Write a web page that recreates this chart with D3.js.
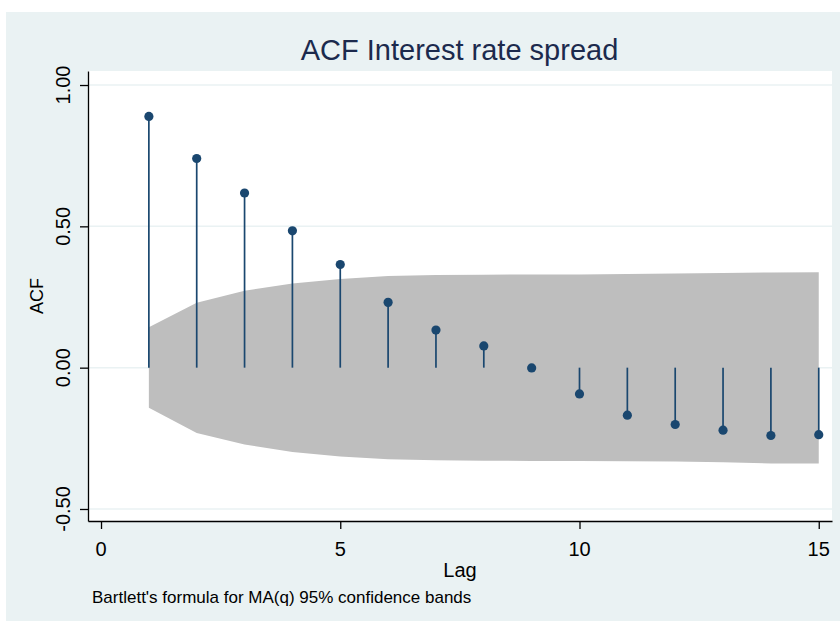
<!DOCTYPE html>
<html>
<head>
<meta charset="utf-8">
<script src="https://cdn.jsdelivr.net/npm/d3@7"></script>
<style>
  html, body { margin: 0; padding: 0; background: #ffffff; }
  svg { display: block; font-family: Arial, "Liberation Sans", sans-serif; }
</style>
</head>
<body>
<svg id="chart" width="840" height="622"></svg>
<script>
// ---- data ----
const lags = [1, 2, 3, 4, 5, 6, 7, 8, 9, 10, 11, 12, 13, 14, 15];
const acf = [0.889, 0.740, 0.618, 0.484, 0.365, 0.231, 0.133, 0.077, -0.001, -0.093, -0.168, -0.201, -0.221, -0.240, -0.237];
const bandUpper = [0.143, 0.230, 0.272, 0.298, 0.314, 0.324, 0.328, 0.329, 0.330, 0.330, 0.331, 0.333, 0.335, 0.337, 0.338];
const bandLower = [-0.142, -0.231, -0.272, -0.298, -0.314, -0.324, -0.328, -0.329, -0.330, -0.330, -0.331, -0.332, -0.335, -0.339, -0.339];
const yTicks = [-0.5, 0, 0.5, 1];
const yTickLabels = ["-0.50", "0.00", "0.50", "1.00"];
const xTicks = [0, 5, 10, 15];
const titleText = "ACF Interest rate spread";
const yTitle = "ACF";
const xTitle = "Lag";
const noteText = "Bartlett's formula for MA(q) 95% confidence bands";

// ---- layout ----
const svg = d3.select("#chart");
const plot = { left: 88, right: 832, top: 71, bottom: 521 };

svg.append("rect").attr("x", 6).attr("y", 12).attr("width", 834).attr("height", 609)
  .attr("fill", "#EAF2F3");
svg.append("rect").attr("x", plot.left).attr("y", plot.top)
  .attr("width", plot.right - plot.left).attr("height", plot.bottom - plot.top)
  .attr("fill", "#ffffff");

const x = d3.scaleLinear().domain([-0.272, 15.277]).range([plot.left, plot.right]);
const y = d3.scaleLinear().domain([-0.5425, 1.0496]).range([plot.bottom, plot.top]);

// grid
svg.append("g").selectAll("line").data(yTicks).join("line")
  .attr("x1", plot.left).attr("x2", plot.right)
  .attr("y1", d => y(d)).attr("y2", d => y(d))
  .attr("stroke", "#EAF2F3").attr("stroke-width", 1.5);

// confidence band
const bandData = lags.map((l, i) => ({ lag: l, lo: bandLower[i], hi: bandUpper[i] }));
svg.append("path").datum(bandData)
  .attr("d", d3.area().x(d => x(d.lag)).y0(d => y(d.lo)).y1(d => y(d.hi)))
  .attr("fill", "#BEBEBE");

// stems
const pts = lags.map((l, i) => ({ lag: l, v: acf[i] }));
svg.append("g").selectAll("line").data(pts).join("line")
  .attr("x1", d => x(d.lag)).attr("x2", d => x(d.lag))
  .attr("y1", y(0)).attr("y2", d => y(d.v))
  .attr("stroke", "#1A476F").attr("stroke-width", 1.7);
svg.append("g").selectAll("circle").data(pts).join("circle")
  .attr("cx", d => x(d.lag)).attr("cy", d => y(d.v)).attr("r", 4.6)
  .attr("fill", "#1A476F");

// y axis
const yAxis = svg.append("g").attr("transform", `translate(${plot.left},0)`)
  .call(d3.axisLeft(y).tickValues(yTicks).tickSize(8).tickSizeOuter(0).tickFormat(""));
yAxis.select(".domain").attr("stroke", "#000").attr("stroke-width", 1.3);
yAxis.selectAll(".tick line").attr("stroke", "#000").attr("stroke-width", 1.3);
svg.append("g").selectAll("text").data(yTicks).join("text")
  .attr("transform", d => `translate(70,${y(d)}) rotate(-90)`)
  .attr("text-anchor", "middle").attr("font-size", 20).attr("fill", "#000")
  .text((d, i) => yTickLabels[i]);

// x axis
const xAxis = svg.append("g").attr("transform", `translate(0,${plot.bottom})`)
  .call(d3.axisBottom(x).tickValues(xTicks).tickSize(8).tickSizeOuter(0).tickFormat(""));
xAxis.select(".domain").attr("stroke", "#000").attr("stroke-width", 1.3);
xAxis.selectAll(".tick line").attr("stroke", "#000").attr("stroke-width", 1.3);
svg.append("g").selectAll("text").data(xTicks).join("text")
  .attr("x", d => x(d)).attr("y", 556)
  .attr("text-anchor", "middle").attr("font-size", 20).attr("fill", "#000")
  .text(d => d);

// titles
svg.append("text").attr("x", 459.5).attr("y", 60).attr("text-anchor", "middle")
  .attr("font-size", 29).attr("fill", "#1C2A4D").text(titleText);
svg.append("text").attr("transform", `translate(43,${(plot.top + plot.bottom) / 2}) rotate(-90)`)
  .attr("text-anchor", "middle").attr("font-size", 18).attr("fill", "#000").text(yTitle);
svg.append("text").attr("x", (plot.left + plot.right) / 2).attr("y", 577)
  .attr("text-anchor", "middle").attr("font-size", 20).attr("fill", "#000").text(xTitle);
svg.append("text").attr("x", 92).attr("y", 603)
  .attr("font-size", 17).attr("fill", "#000").text(noteText);
</script>
</body>
</html>
